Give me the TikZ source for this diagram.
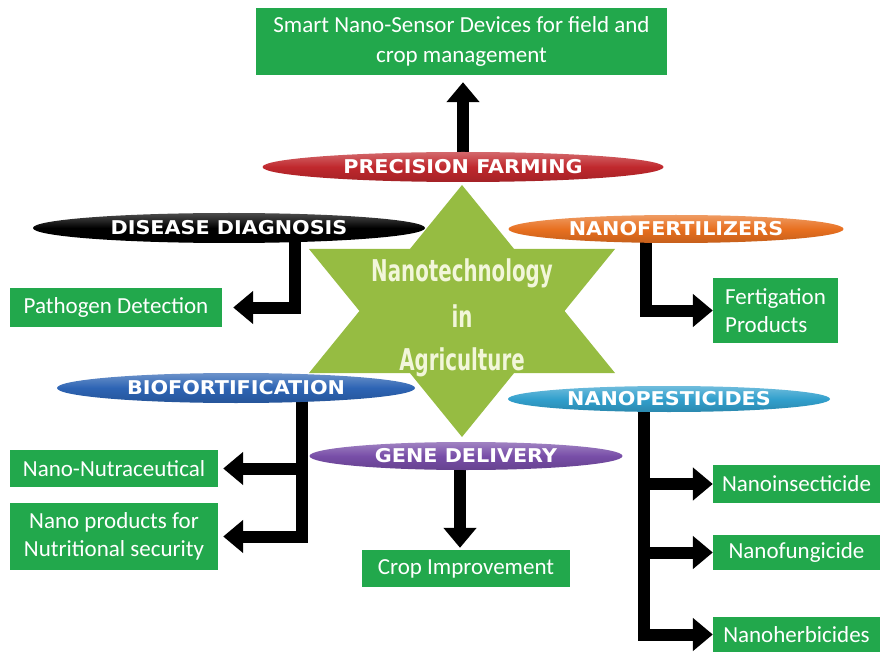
\documentclass[tikz,border=0pt]{standalone}
\usepackage{fontspec}
\usepackage{graphicx}
\usetikzlibrary{shapes.geometric,arrows.meta,calc}
\newfontfamily\boxfont{Carlito}
\newfontfamily\ellfont{DejaVu Sans}
\newfontfamily\starfont{DejaVu Sans}
\definecolor{boxgreen}{RGB}{34,168,76}
\definecolor{stargreen}{RGB}{150,188,66}
\definecolor{startext}{RGB}{242,246,218}
\definecolor{pfred}{RGB}{192,40,45}
\definecolor{nforange}{RGB}{232,112,32}
\definecolor{bfblue}{RGB}{45,100,180}
\definecolor{npcyan}{RGB}{50,160,205}
\definecolor{gdpurple}{RGB}{120,78,168}
\pgfdeclarelayer{bg}
\pgfsetlayers{bg,main}
\tikzset{
  gbox/.style={fill=boxgreen, text=white, font=\boxfont\fontsize{23}{28}\selectfont, inner sep=0pt, align=center},
  ell/.style={ellipse, inner sep=0pt, minimum height=30pt, text=white, font=\ellfont\bfseries\fontsize{19}{20}\selectfont},
  ellc/.style={top color=#1!70!white, bottom color=#1!85!black, middle color=#1},
  arr/.style={line width=12pt, line join=miter, -{Triangle[width=32pt,length=20pt]}},
  bar/.style={line width=12pt, line cap=rect},
  startxt/.style={text=startext, font=\starfont\bfseries\fontsize{30}{36}\selectfont, inner sep=0pt, anchor=base},
}
\newcommand\wsc[1]{\scalebox{1.09}[1]{#1}}
\newcommand\nsc[1]{\scalebox{0.66}[1]{#1}}
\begin{document}
\begin{tikzpicture}[x=1pt,y=-1pt]
\useasboundingbox (0,0) rectangle (883,652);

% star
\fill[stargreen] (462,185) -- (615,373) -- (309,373) -- cycle;
\fill[stargreen] (462,437) -- (615,249) -- (309,249) -- cycle;
\node[startxt] (t1) at (462,282) {\nsc{Nanotechnology}};
\node[startxt] (t2) at (462,327) {\nsc{in}};
\node[startxt] (t3) at (462,370) {\nsc{Agriculture}};

% ellipses
\node[ell, ellc=pfred, minimum width=401pt] (pf) at (463,167) {\wsc{PRECISION FARMING}};
\node[ell, ellc=black, minimum width=392pt] (dd) at (229,228) {\wsc{DISEASE DIAGNOSIS}};
\node[ell, ellc=nforange, minimum width=335pt, minimum height=28pt] (nfert) at (676,229) {\wsc{NANOFERTILIZERS}};
\node[ell, ellc=bfblue, minimum width=358pt] (bf) at (236,388) {\wsc{BIOFORTIFICATION}};
\node[ell, ellc=npcyan, minimum width=322pt, minimum height=26pt] (npest) at (669,399) {\wsc{NANOPESTICIDES}};
\node[ell, ellc=gdpurple, minimum width=313pt, minimum height=28pt] (gd) at (466,456) {\wsc{GENE DELIVERY}};

% green boxes
\node[gbox, font=\boxfont\fontsize{23}{30}\selectfont, minimum width=411pt, minimum height=67pt] (top) at (461.5,41.5) {Smart Nano-Sensor Devices for field and\\crop management};
\node[gbox, minimum width=212pt, minimum height=39pt] (pd) at (116,307.5) {Pathogen Detection};
\node[gbox, align=left, minimum width=125pt, minimum height=65pt] (fp) at (775.5,310.5) {Fertigation\\Products};
\node[gbox, minimum width=208pt, minimum height=37pt] (nn) at (114,468.5) {Nano-Nutraceutical};
\node[gbox, minimum width=208pt, minimum height=67pt] (nprod) at (114,536.5) {Nano products for\\Nutritional security};
\node[gbox, minimum width=208pt, minimum height=37pt] (ci) at (466,568.5) {Crop Improvement};
\node[gbox, minimum width=167pt, minimum height=38pt] (ni) at (796.5,484) {Nanoinsecticide};
\node[gbox, minimum width=167pt, minimum height=35pt] (nfung) at (796.5,552.5) {Nanofungicide};
\node[gbox, minimum width=167pt, minimum height=35pt] (nh) at (796.5,634.5) {Nanoherbicides};

% connector x positions
\coordinate (ddx) at (295,0);
\coordinate (nfx) at (646,0);
\coordinate (bfx) at (302,0);
\coordinate (gdx) at (460,0);
\coordinate (npx) at (644,0);

\begin{pgfonlayer}{bg}
\draw[arr, shorten >=7pt] (pf.center) -- (pf.center |- top.south);
\draw[arr, shorten >=11pt] (dd.center -| ddx) |- (pd.east);
\draw[arr] (nfert.center -| nfx) |- (fp.west);
\draw[bar] (bf.center -| bfx) -- (bfx |- nprod.east);
\draw[arr, shorten >=5pt] (bfx |- nn.east) -- (nn.east);
\draw[arr, shorten >=5pt] (bfx |- nprod.east) -- (nprod.east);
\draw[arr, shorten >=2pt] (gd.center -| gdx) -- (gdx |- ci.north);
\draw[bar] (npest.center -| npx) -- (npx |- nh.west);
\draw[arr] (npx |- ni.west) -- (ni.west);
\draw[arr] (npx |- nfung.west) -- (nfung.west);
\draw[arr] (npx |- nh.west) -- (nh.west);
\end{pgfonlayer}
\end{tikzpicture}
\end{document}
